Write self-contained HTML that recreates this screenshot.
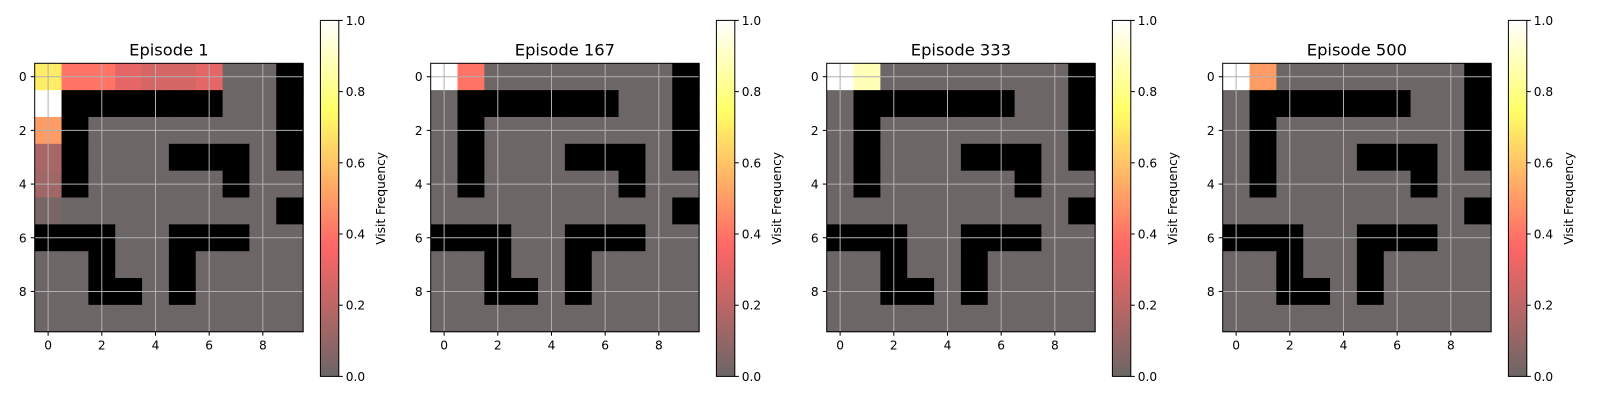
<!DOCTYPE html>
<html><head><meta charset="utf-8">
<style>
html,body{margin:0;padding:0;background:#fff;}
svg text{font-family:"DejaVu Sans","Liberation Sans",sans-serif;fill:#000;}
</style></head>
<body>
<svg id="fig" width="1600" height="400" xmlns="http://www.w3.org/2000/svg"></svg>
<script>
const episodes = ["Episode 1","Episode 167","Episode 333","Episode 500"];
const walls = [
 [0,0,0,0,0,0,0,0,0,1],
 [0,1,1,1,1,1,1,0,0,1],
 [0,1,0,0,0,0,0,0,0,1],
 [0,1,0,0,0,1,1,1,0,1],
 [0,1,0,0,0,0,0,1,0,0],
 [0,0,0,0,0,0,0,0,0,1],
 [1,1,1,0,0,1,1,1,0,0],
 [0,0,1,0,0,1,0,0,0,0],
 [0,0,1,1,0,1,0,0,0,0],
 [0,0,0,0,0,0,0,0,0,0]
];
// visit frequencies (sparse: [row, col, value])
const visits1 = [[0,0,0.7],[0,1,0.4],[0,2,0.4],[0,3,0.3],[0,4,0.26],[0,5,0.26],[0,6,0.3],[1,0,1.0],[2,0,0.5],[3,0,0.15],[4,0,0.13],[5,0,0.03]];
const visits167 = [[0,0,1.0],[0,1,0.4]];
const visits333 = [[0,0,1.0],[0,1,0.88]];
const visits500 = [[0,0,1.0],[0,1,0.5]];
const allVisits = [visits1,visits167,visits333,visits500];
const ticks = [0,2,4,6,8];
const cbTicks = [0,0.2,0.4,0.6,0.8,1.0];

const NS="http://www.w3.org/2000/svg";
const svg=document.getElementById('fig');
function mk(tag,attrs,parent){const e=document.createElementNS(NS,tag);for(const k in attrs)e.setAttribute(k,attrs[k]);(parent||svg).appendChild(e);return e;}
function hot(v){
  const r=Math.min(1,0.0416+v/0.365*0.9584);
  const g=Math.max(0,Math.min(1,(v-0.365)/0.381));
  const b=Math.max(0,Math.min(1,(v-0.746)/0.254));
  const a=0.6;
  const f=c=>Math.round((c*a+(1-a))*255);
  return `rgb(${f(r)},${f(g)},${f(b)})`;
}
const defs=mk('defs',{});
const lg=mk('linearGradient',{id:'cmap',x1:0,y1:1,x2:0,y2:0},defs);
for(let i=0;i<=40;i++){const v=i/40;mk('stop',{offset:v,'stop-color':hot(v)},lg);}

const x0=34.7,y0=63.3,size=268.4,dx=396,n=10,cell=size/n;
episodes.forEach((title,p)=>{
  const ox=x0+p*dx;
  const g=mk('g',{});
  
  
  const xs=c=>ox+c*cell, ys=r=>y0+r*cell;
  const vals=Array.from({length:n},()=>Array(n).fill(0));
  allVisits[p].forEach(([r,c,v])=>vals[r][c]=v);
  for(let r=0;r<n;r++)for(let c=0;c<n;c++){
    const rc=mk('rect',{x:xs(c),y:ys(r),width:cell+0.6,height:cell+0.6,fill:walls[r][c]?'#000':hot(vals[r][c])},g);
    
    
  }
  ticks.forEach(t=>{
    const cx=xs(t+0.5), cy=ys(t+0.5);
    mk('line',{x1:cx,x2:cx,y1:y0,y2:y0+size,stroke:'#b0b0b0','stroke-width':1},g);
    mk('line',{x1:ox,x2:ox+size,y1:cy,y2:cy,stroke:'#b0b0b0','stroke-width':1},g);
    mk('line',{x1:cx,x2:cx,y1:y0+size,y2:y0+size+4,stroke:'#000'},g);
    mk('line',{x1:ox-4,x2:ox,y1:cy,y2:cy,stroke:'#000'},g);
    const tx=mk('text',{x:cx,y:y0+size+18,'text-anchor':'middle','font-size':12.2},g);tx.textContent=t;
    
    
    const ty=mk('text',{x:ox-8,y:cy+4.5,'text-anchor':'end','font-size':12.2},g);ty.textContent=t;
    
    
  });
  mk('rect',{x:ox,y:y0,width:size,height:size,fill:'none',stroke:'#000','stroke-width':1},g);
  const tt=mk('text',{x:ox+size/2,y:y0-8,'text-anchor':'middle','font-size':16.3},g);tt.textContent=title;
  
  
  const cbx=ox+285.7, cby=20.4, cbw=18.4, cbh=356;
  const cb=mk('g',{});
  
  
  mk('rect',{x:cbx,y:cby,width:cbw,height:cbh,fill:'url(#cmap)',stroke:'#000','stroke-width':1},cb);
  cbTicks.forEach(v=>{
    const yy=cby+cbh*(1-v);
    mk('line',{x1:cbx+cbw,x2:cbx+cbw+4,y1:yy,y2:yy,stroke:'#000'},cb);
    const l=mk('text',{x:cbx+cbw+7,y:yy+4.5,'font-size':12.2},cb);l.textContent=v.toFixed(1);
    
    
  });
  const lab=mk('text',{x:0,y:0,'font-size':12.2,'text-anchor':'middle',transform:`translate(${cbx+cbw+46},${cby+cbh/2}) rotate(-90)`},cb);
  lab.textContent='Visit Frequency';
  
  
});
</script>
</body></html>
